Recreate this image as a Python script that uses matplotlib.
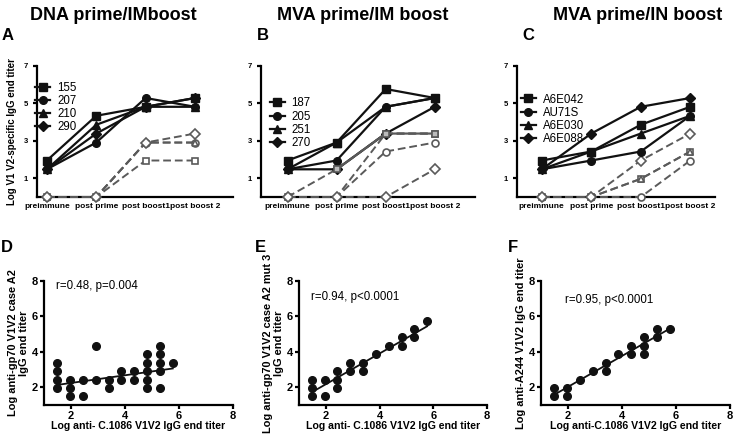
import numpy as np
import matplotlib
matplotlib.use("Agg")
import matplotlib.pyplot as plt
from matplotlib.lines import Line2D

plt.rcParams["font.family"] = ["Liberation Sans", "DejaVu Sans"]

# ---- top panels: time course -------------------------------------------
TIMEPOINTS = ["preimmune", "post prime", "post boost1", "post boost 2"]
MARKERS = ["s", "o", "^", "D"]

A_IDS = ["155", "207", "210", "290"]
A_SOLID = [[1.95, 4.34, 4.82, 5.29],
           [1.48, 2.91, 5.29, 4.82],
           [1.48, 3.86, 4.82, 4.82],
           [1.48, 3.39, 4.82, 5.29]]
A_DASHED = [[0, 0, 1.95, 1.95],
            [0, 0, 2.91, 2.91],
            [0, 0, 2.91, 2.91],
            [0, 0, 2.91, 3.39]]

B_IDS = ["187", "205", "251", "270"]
B_SOLID = [[1.95, 2.91, 5.77, 5.29],
           [1.48, 1.95, 4.82, 5.29],
           [1.48, 2.91, 4.82, 5.29],
           [1.48, 1.48, 3.39, 4.82]]
B_DASHED = [[0, 1.48, 3.39, 3.39],
            [0, 0, 2.43, 2.91],
            [0, 0, 3.39, 3.39],
            [0, 0, 0, 1.48]]

C_IDS = ["A6E042", "AU71S", "A6E030", "A6E088"]
C_SOLID = [[1.95, 2.43, 3.86, 4.82],
           [1.48, 1.95, 2.43, 4.34],
           [1.48, 2.43, 3.39, 4.34],
           [1.48, 3.39, 4.82, 5.29]]
C_DASHED = [[0, 0, 0.97, 2.43],
            [0, 0, 0, 1.95],
            [0, 0, 0.97, 2.43],
            [0, 0, 1.95, 3.39]]

# ---- bottom panels: correlations -----------------------------------------
D_X = [1.48, 1.48, 1.48, 1.48, 1.95, 1.95, 1.95, 2.43, 2.43, 2.91, 2.91,
       3.39, 3.39, 3.86, 3.86, 4.34, 4.34, 4.82, 4.82, 4.82, 4.82, 4.82,
       5.29, 5.29, 5.29, 5.29, 5.29, 5.77]
D_Y = [3.39, 2.91, 2.43, 1.95, 2.43, 1.95, 1.48, 2.43, 1.48, 4.34, 2.43,
       2.43, 1.95, 2.91, 2.43, 2.91, 2.43, 3.86, 3.39, 2.91, 2.43, 1.95,
       4.34, 3.86, 3.39, 2.91, 1.95, 3.39]
D_FIT = (0.217, 1.81)

E_X = [1.48, 1.48, 1.48, 1.95, 1.95, 2.43, 2.43, 2.43, 2.91, 2.91,
       3.39, 3.39, 3.86, 4.34, 4.82, 4.82, 5.29, 5.29, 5.77]
E_Y = [2.43, 1.95, 1.48, 2.43, 1.48, 2.91, 2.43, 1.95, 3.39, 2.91,
       3.39, 2.91, 3.86, 4.34, 4.82, 4.34, 5.29, 4.82, 5.77]
E_FIT = (0.867, 0.44)

F_X = [1.48, 1.48, 1.95, 1.95, 2.43, 2.91, 3.39, 3.39, 3.86, 4.34, 4.34,
       4.82, 4.82, 4.82, 5.29, 5.29, 5.77]
F_Y = [1.95, 1.48, 1.95, 1.48, 2.43, 2.91, 3.39, 2.91, 3.86, 4.34, 3.86,
       4.82, 4.34, 3.86, 5.29, 4.82, 5.29]
F_FIT = (0.872, 0.28)

W, H = 733, 438
fig = plt.figure(figsize=(W / 100, H / 100), dpi=100)


def px_axes(left, top, right, bottom):
    return fig.add_axes([left / W, 1 - bottom / H, (right - left) / W, (bottom - top) / H])


def style(ax, lw=1.6):
    for s in ["top", "right"]:
        ax.spines[s].set_visible(False)
    for s in ["left", "bottom"]:
        ax.spines[s].set_linewidth(lw)
    ax.tick_params(width=lw, length=3, direction="out")


def time_panel(box, xlim, ids, solid, dashed, leg_xy, grey_solid_from=None):
    ax = px_axes(*box)
    style(ax)
    x = np.arange(len(TIMEPOINTS))
    for vals, m in zip(dashed, MARKERS):
        ax.plot(x, vals, ls=(0, (4, 2)), color="#5a5a5a", lw=1.4, marker=m,
                ms=5, mfc="white", mec="#5a5a5a", mew=1.2, clip_on=False, zorder=3)
    for vals, m in zip(solid, MARKERS):
        ax.plot(x, vals, color="#111111", lw=1.6, marker=m, ms=5.5,
                mfc="#111111", mec="#111111", clip_on=False, zorder=4)
    if grey_solid_from is not None:
        vals = dashed[0]
        ax.plot(x[grey_solid_from:], vals[grey_solid_from:], color="#5a5a5a", lw=1.6,
                marker="s", ms=5, mfc="#bbbbbb", mec="#5a5a5a", mew=1.2,
                clip_on=False, zorder=5)
    ax.set_xlim(*xlim)
    ax.set_ylim(0, 7)
    ax.set_yticks([1, 3, 5, 7])
    ax.set_yticklabels(["1", "3", "5", "7"], fontsize=5.5, fontweight="bold")
    ax.set_xticks(x)
    ax.set_xticklabels(TIMEPOINTS, fontsize=6.0, fontweight="bold")
    ax.tick_params(axis="x", length=0, pad=4)
    handles = [Line2D([], [], color="#111111", lw=1.6, marker=m, ms=5.5) for m in MARKERS]
    ax.legend(handles, ids, loc="upper left", bbox_to_anchor=leg_xy, frameon=False,
              fontsize=8.3, handlelength=1.3, handletextpad=0.6, labelspacing=0.1,
              borderaxespad=0, borderpad=0)
    return ax


def corr_panel(box, xs, ys, fit, text, text_xy, ylabel):
    ax = px_axes(*box)
    style(ax)
    ax.plot(xs, ys, "o", color="#111111", ms=5.5, clip_on=False, zorder=3)
    fx = np.array([min(xs), max(xs)])
    ax.plot(fx, fit[0] * fx + fit[1], color="#111111", lw=1.3)
    ax.set_xlim(1, 8)
    ax.set_ylim(1, 8)
    ax.set_xticks([2, 4, 6, 8])
    ax.set_yticks([2, 4, 6, 8])
    for lab in ax.get_xticklabels() + ax.get_yticklabels():
        lab.set_fontsize(8)
        lab.set_fontweight("bold")
    ax.tick_params(pad=1.5)
    ax.text(*text_xy, text, fontsize=8.3, ha="left", va="center")
    ax.set_ylabel(ylabel, fontsize=7.9, fontweight="bold", labelpad=2, linespacing=1.05)
    return ax


time_panel((37, 66, 233, 197), (-0.2, 3.77), A_IDS, A_SOLID, A_DASHED, (-0.01, 0.88))
time_panel((261, 66, 475, 197), (-0.54, 3.82), B_IDS, B_SOLID, B_DASHED, (0.04, 0.76),
           grey_solid_from=1)
time_panel((517, 66, 715, 197), (-0.5, 3.5), C_IDS, C_SOLID, C_DASHED, (0.02, 0.79))

fig.axes[0].set_ylabel("Log V1 V2-specific IgG end titer", fontsize=7,
                       fontweight="bold", labelpad=5)

corr_panel((44, 281, 233, 405), D_X, D_Y, D_FIT, "r=0.48, p=0.004", (1.45, 7.7),
           "Log anti-gp70 V1V2 case A2\nIgG end titer")
corr_panel((299, 281, 487, 405), E_X, E_Y, E_FIT, "r=0.94, p<0.0001", (1.45, 7.1),
           "Log anti-gp70 V1V2 case A2 mut 3\nIgG end titer")
corr_panel((541, 281, 730, 405), F_X, F_Y, F_FIT, "r=0.95, p<0.0001", (1.9, 6.9),
           "Log anti-A244 V1V2 IgG end titer")
fig.axes[3].set_xlabel("Log anti- C.1086 V1V2 IgG end titer", fontsize=7.6,
                       fontweight="bold", labelpad=0)
fig.axes[4].set_xlabel("Log anti- C.1086 V1V2 IgG end titer", fontsize=7.6,
                       fontweight="bold", labelpad=0)
fig.axes[5].set_xlabel("Log anti-C.1086 V1V2 IgG end titer", fontsize=7.6,
                       fontweight="bold", labelpad=0)

for txt, xc in [("DNA prime/IMboost", 113), ("MVA prime/IM boost", 363),
                ("MVA prime/IN boost", 638)]:
    fig.text(xc / W, 1 - 15 / H, txt, fontsize=13, fontweight="bold",
             ha="center", va="center")

for letter, xl, yl in [("A", 2, 36), ("B", 257, 36), ("C", 522, 36),
                       ("D", 1, 247), ("E", 255, 247), ("F", 508, 247)]:
    fig.text(xl / W, 1 - yl / H, letter, fontsize=12, fontweight="bold",
             ha="left", va="center")

fig.savefig("out.png", dpi=100)
